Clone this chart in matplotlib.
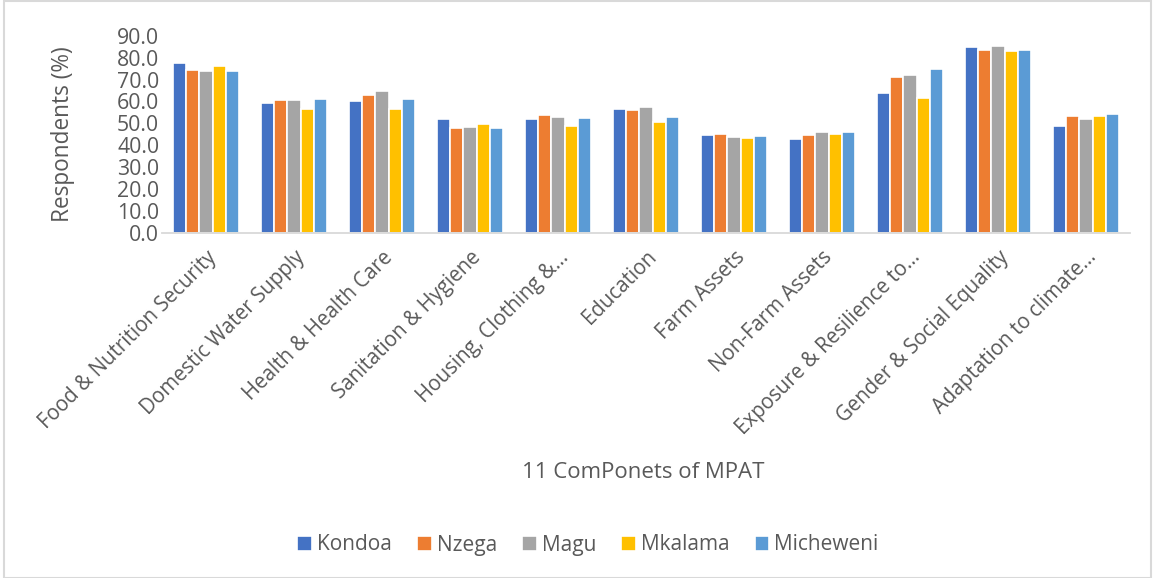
import matplotlib
matplotlib.use("Agg")
import matplotlib.pyplot as plt
import numpy as np
from matplotlib.patches import Rectangle

plt.rcParams['font.family'] = ['Open Sans', 'DejaVu Sans']

categories = ["Food & Nutrition Security", "Domestic Water Supply", "Health & Health Care",
              "Sanitation & Hygiene", "Housing, Clothing &...", "Education", "Farm Assets",
              "Non-Farm Assets", "Exposure & Resilience to...", "Gender & Social Equality",
              "Adaptation to climate..."]
series_names = ["Kondoa", "Nzega", "Magu", "Mkalama", "Micheweni"]
kondoa    = [77.4, 59.1, 60.4, 51.9, 51.8, 56.5, 44.6, 43.1, 63.9, 84.8, 48.6]
nzega     = [74.3, 60.7, 63.0, 47.8, 53.7, 56.3, 45.1, 44.9, 71.1, 83.7, 53.3]
magu      = [74.0, 60.7, 65.0, 48.3, 52.8, 57.4, 43.8, 46.1, 72.0, 85.1, 52.1]
mkalama   = [76.1, 56.5, 56.6, 49.6, 49.0, 50.5, 43.2, 45.2, 61.4, 83.1, 53.3]
micheweni = [73.7, 61.0, 61.0, 47.8, 52.4, 52.8, 44.1, 46.3, 74.7, 83.4, 54.2]
yticks = [0, 10, 20, 30, 40, 50, 60, 70, 80, 90]

colors = ["#4472C4", "#ED7D31", "#A5A5A5", "#FFC000", "#5B9BD5"]
text_color = "#595959"

fig = plt.figure(figsize=(11.55, 5.78), dpi=100)
ax = fig.add_axes([162/1155, 1 - 233/578, (1130-162)/1155, (233-35.7)/578])

x = np.arange(len(categories))
data = [kondoa, nzega, magu, mkalama, micheweni]
bw = 0.15
for i, (vals, name, c) in enumerate(zip(data, series_names, colors)):
    ax.bar(x + (i - 2) * bw, vals, width=bw, color=c, edgecolor="white",
           linewidth=1.2, label=name, zorder=2)

ax.set_xlim(-0.5, len(categories) - 0.5)
ax.set_ylim(0, 90)
ax.set_yticks(yticks)
ax.set_yticklabels([f"{v:.1f}" for v in yticks], fontsize=15.3, color=text_color)
ax.set_xticks(x)
ax.set_xticklabels(categories, rotation=45, ha="right", rotation_mode="anchor",
                   fontsize=14.8, color=text_color)
ax.tick_params(axis="both", length=0)
ax.tick_params(axis="y", pad=2)
ax.tick_params(axis="x", pad=10)
for s in ["top", "right", "left"]:
    ax.spines[s].set_visible(False)
ax.spines["bottom"].set_color("#D9D9D9")
ax.spines["bottom"].set_linewidth(1.3)

ax.set_ylabel("Respondents (%)", fontsize=16.3, color=text_color, labelpad=30)
fig.text(643/1155, 1 - 472/578, "11 ComPonets of MPAT", fontsize=16, color=text_color,
         ha="center", va="center")

leg = fig.legend(loc="center", bbox_to_anchor=(588/1155, 1 - 545/578), ncol=5,
                 frameon=False, fontsize=15, handlelength=0.7, handleheight=0.7,
                 handletextpad=0.25, columnspacing=1.2)
for t in leg.get_texts():
    t.set_color(text_color)

fig.patches.append(Rectangle((4/1155, 0), 1 - 8/1155, 1 - 1/578, transform=fig.transFigure,
                             fill=False, edgecolor="#D9D9D9", linewidth=1.5))

fig.savefig("out.png", dpi=100)
